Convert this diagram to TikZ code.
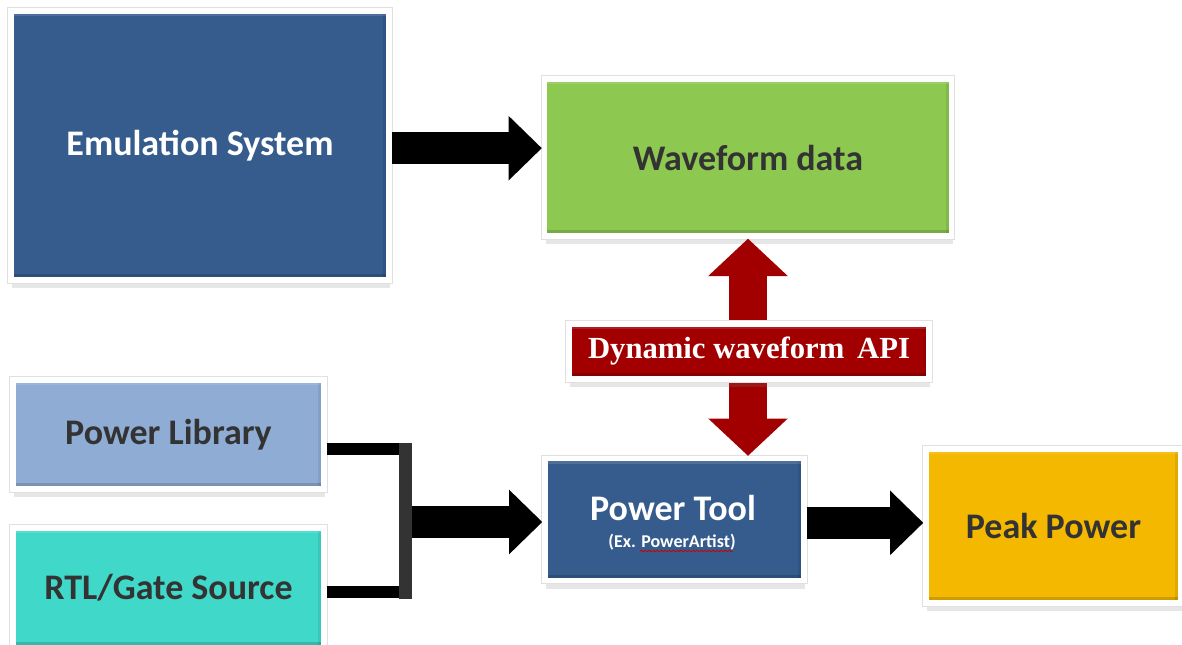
\documentclass[tikz,border=0pt]{standalone}
\usepackage{fontspec}
\setmainfont{Carlito}
\newfontfamily\apifont{Liberation Serif}
\usetikzlibrary{arrows.meta,shadows,decorations.pathmorphing}

\definecolor{emublue}{HTML}{355C8C}
\definecolor{wavegreen}{HTML}{8DC851}
\definecolor{libblue}{HTML}{8FADD4}
\definecolor{rtlteal}{HTML}{40D8C8}
\definecolor{peakgold}{HTML}{F4B800}
\definecolor{apired}{HTML}{A20000}
\definecolor{txtgray}{HTML}{333333}
\definecolor{bargray}{HTML}{333333}

\tikzset{
  blk/.style={draw=white, line width=4pt, inner sep=0pt, text=txtgray,
    font=\fontsize{27}{32}\selectfont\bfseries,
    drop shadow={opacity=.2, shadow xshift=1pt, shadow yshift=-6pt},
    preaction={draw=black!12, line width=5.5pt},
    path picture={
      \fill[black,opacity=.15] (path picture bounding box.south west)
        rectangle ([yshift=4.5pt]path picture bounding box.south east);
      \fill[black,opacity=.08] ([xshift=-4.5pt]path picture bounding box.south east)
        rectangle (path picture bounding box.north east);
      \fill[white,opacity=.12] (path picture bounding box.north west)
        rectangle ([yshift=-4pt]path picture bounding box.north east);}},
  blockarrow/.style={black, line width=24pt, -{Triangle[length=25pt,width=47pt]}},
  apiarrow/.style={apired, line width=28.5pt,
    {Triangle[length=28pt,width=58pt]}-{Triangle[length=28pt,width=58pt]}},
  bracket/.style={black, line width=9pt},
  bar/.style={bargray, line width=9.75pt, line cap=rect},
  spellwave/.style={red!80!black, line width=.6pt, decorate,
    decoration={snake,amplitude=.6pt,segment length=3pt}}
}

\begin{document}
\begin{tikzpicture}[x=.75pt,y=-.75pt]
\clip (0,0) rectangle (1182,644);
% boxes
\node[blk, fill=emublue, text=white, minimum width=283.5pt, minimum height=201.75pt] (emu) at (200,145.5) {Emulation System};
\node[blk, fill=wavegreen, minimum width=305.25pt, minimum height=117.75pt] (wave) at (748,157.5) {Waveform data};
\node[blk, fill=libblue, minimum width=233.25pt, minimum height=81.75pt] (lib) at (168.5,434.5) {Power Library};
\node[blk, fill=rtlteal, minimum width=233.25pt, minimum height=90pt] (rtl) at (168.5,588) {RTL/Gate Source};
\node[blk, fill=emublue, minimum width=194.25pt, minimum height=91.5pt] (tool) at (674.5,519.5) {};
\node[text=white, font=\fontsize{27}{32}\selectfont\bfseries] (tooltitle) at (673,508) {Power Tool};
\node[text=white, font=\fontsize{13.5}{16}\selectfont\bfseries] (toolsub) at (672,542) {(Ex. PowerArtist)};
\draw[spellwave] (640,551) -- (733,551);
\node[blk, fill=peakgold, minimum width=191.25pt, minimum height=115.5pt] (peak) at (1053.5,526) {Peak Power};

% joins
\coordinate (bt) at (405,449);
\coordinate (bb) at (405,592);
\coordinate (jn) at (405,522);

% connectors
\draw[blockarrow] ([yshift=-2pt]emu.east) -- ([yshift=-2pt]emu.east -| wave.west);
\draw[bracket] (lib.east |- bt) -- (bt);
\draw[bracket] (rtl.east |- bb) -- (bb);
\draw[blockarrow] (jn) -- (jn -| tool.west);
\draw[bar] (bt) -- (bb);
\draw[blockarrow] ([yshift=-2.5pt]tool.east) -- ([yshift=-2.5pt]tool.east -| peak.west);
\draw[apiarrow] (wave.south) -- (wave.south |- tool.north);

\node[blk, fill=apired, text=white, minimum width=270pt, minimum height=41.25pt,
  font=\fontsize{23}{28}\selectfont\apifont\bfseries] (api) at (749,351.5) {Dynamic waveform\, API};
\end{tikzpicture}
\end{document}
